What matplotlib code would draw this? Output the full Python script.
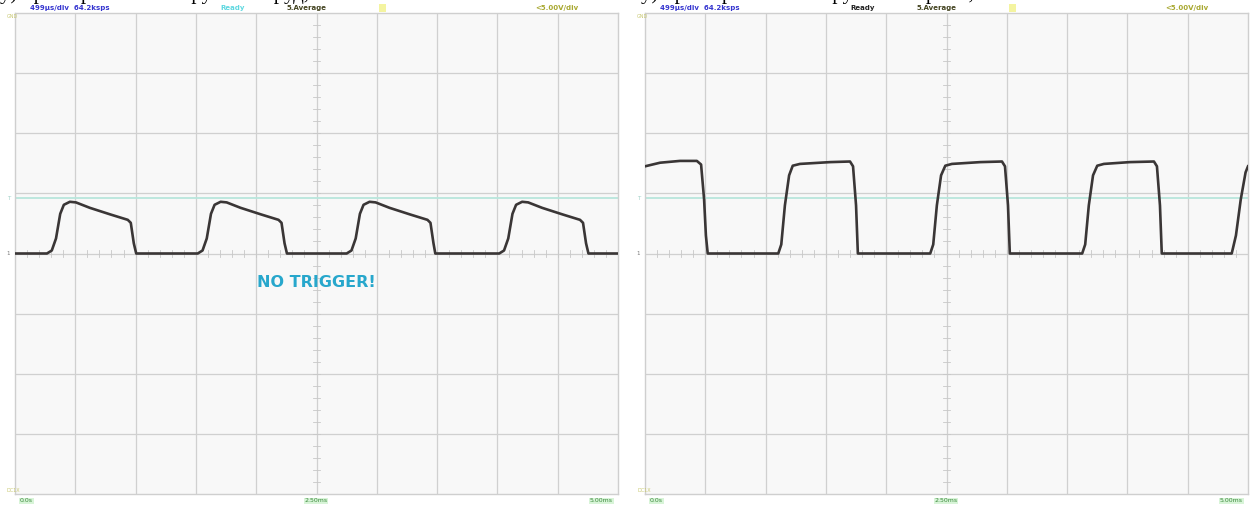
import matplotlib.pyplot as plt

# осциллограммы, время в делениях (0.5 мс/дел), напряжение в делениях (5 В/дел)
t_left = [0.0, 0.53, 0.61, 0.68, 0.75, 0.81, 0.91, 1.01, 1.24, 1.58, 1.87, 1.92, 1.97, 2.01,
          3.03, 3.11, 3.18, 3.25, 3.31, 3.41, 3.51, 3.74, 4.08, 4.37, 4.42, 4.47, 4.51,
          5.50, 5.58, 5.65, 5.72, 5.78, 5.88, 5.98, 6.21, 6.55, 6.84, 6.89, 6.94, 6.97,
          8.03, 8.11, 8.18, 8.25, 8.31, 8.41, 8.51, 8.74, 9.08, 9.37, 9.42, 9.47, 9.51, 10.0]
u_left = [0.0, 0.0, 0.05, 0.25, 0.66, 0.81, 0.86, 0.85, 0.76, 0.65, 0.56, 0.51, 0.17, 0.0,
          0.0, 0.05, 0.25, 0.66, 0.81, 0.86, 0.85, 0.76, 0.65, 0.56, 0.51, 0.17, 0.0,
          0.0, 0.05, 0.25, 0.66, 0.81, 0.86, 0.85, 0.76, 0.65, 0.56, 0.51, 0.17, 0.0,
          0.0, 0.05, 0.25, 0.66, 0.81, 0.86, 0.85, 0.76, 0.65, 0.56, 0.51, 0.17, 0.0, 0.0]

t_right = [0.0, 0.25, 0.58, 0.86, 0.93, 0.98, 1.01, 1.04,
           2.21, 2.26, 2.32, 2.39, 2.45, 2.57, 3.07, 3.40, 3.45, 3.50, 3.53,
           4.73, 4.78, 4.84, 4.91, 4.98, 5.09, 5.56, 5.92, 5.97, 6.02, 6.05,
           7.25, 7.30, 7.36, 7.43, 7.50, 7.61, 8.04, 8.44, 8.49, 8.54, 8.57,
           9.73, 9.80, 9.88, 9.96, 10.0]
u_right = [1.45, 1.51, 1.54, 1.54, 1.48, 0.9, 0.3, 0.0,
           0.0, 0.15, 0.8, 1.3, 1.46, 1.49, 1.52, 1.53, 1.45, 0.8, 0.0,
           0.0, 0.15, 0.8, 1.3, 1.46, 1.49, 1.52, 1.53, 1.45, 0.8, 0.0,
           0.0, 0.15, 0.8, 1.3, 1.46, 1.49, 1.52, 1.53, 1.45, 0.8, 0.0,
           0.0, 0.3, 0.9, 1.35, 1.45]

trig_level = 0.92
ready_colors = ['#5fd8e0', '#222222']
time_labels = ['0.0s', '2.50ms', '5.00ms']

W, H = 1256, 507
fig = plt.figure(figsize=(W / 100, H / 100), dpi=100)
fig.patch.set_facecolor('white')

# строка подписи над осциллограммами (видна только нижняя часть)
fig.text(0.0, 1.012, 'у) при первичном нагружении руд, ...', fontsize=15,
         family='Liberation Serif', va='center', ha='left', color='black')
fig.text(0.51, 1.012, 'у) при первичном нагружении при ..., ...', fontsize=15,
         family='Liberation Serif', va='center', ha='left', color='black')

panels = [(15, t_left, u_left, ready_colors[0]), (645, t_right, u_right, ready_colors[1])]

for i, (x0, t, u, rc) in enumerate(panels):
    ax = fig.add_axes([x0 / W, 13 / H, 603 / W, 481 / H])
    ax.set_facecolor('#f8f8f8')
    ax.set_xlim(0, 10)
    ax.set_ylim(-4, 4)
    for k in range(1, 10):
        ax.axvline(k, color='#d0d0d0', lw=0.9, zorder=1)
    for k in range(-3, 4):
        ax.axhline(k, color='#d0d0d0', lw=0.9, zorder=1)
    # мелкие риски на центральных осях
    for k in range(1, 50):
        ax.plot([k * 0.2, k * 0.2], [-0.05, 0.05], color='#c8c8c8', lw=0.6, zorder=1)
    for k in range(-19, 20):
        ax.plot([4.95, 5.05], [k * 0.2, k * 0.2], color='#c8c8c8', lw=0.6, zorder=1)
    ax.axhline(trig_level, color='#b8e6dc', lw=1.3, zorder=2)
    ax.plot(t, u, color='#3a3636', lw=1.9, zorder=3, solid_joinstyle='round')
    ax.set_xticks([])
    ax.set_yticks([])
    for s in ax.spines.values():
        s.set_color('#cfcfcf')
        s.set_linewidth(1.0)
    ax.text(-0.08, 0.0, '1', fontsize=4, color='#777777', va='center', ha='right')
    ax.text(-0.08, trig_level, 'T', fontsize=4, color='#9fd0c8', va='center', ha='right')

    # верхняя строка состояния осциллографа
    yt = 1 - 8 / H
    fig.text((x0 + 15) / W, yt, '499µs/div  64.2ksps', fontsize=5, color='#3535d0',
             weight='bold', va='center')
    fig.text((x0 + 205) / W, yt, 'Ready', fontsize=5, color=rc, weight='bold', va='center')
    fig.text((x0 + 272) / W, yt, '5.Average', fontsize=5, color='#444420', weight='bold',
             va='center')
    fig.text((x0 + 365) / W, yt, '  ', fontsize=5, va='center',
             bbox=dict(facecolor='#f4f4a0', edgecolor='none', pad=1.0))
    fig.text((x0 + 520) / W, yt, '<5.00V/div', fontsize=5, color='#a8a830', weight='bold',
             va='center')
    fig.text((x0 - 8) / W, 1 - 16 / H, 'GND', fontsize=3.5, color='#c8c870', va='center')

    # нижняя шкала времени
    yb = 6 / H
    fig.text((x0 + 5) / W, yb, time_labels[0], fontsize=4.5, color='#3c8a3c', va='center',
             bbox=dict(facecolor='#d8f4d8', edgecolor='none', pad=0.6))
    fig.text((x0 + 301) / W, yb, time_labels[1], fontsize=4.5, color='#3c8a3c', va='center',
             ha='center', bbox=dict(facecolor='#d8f4d8', edgecolor='none', pad=0.6))
    fig.text((x0 + 598) / W, yb, time_labels[2], fontsize=4.5, color='#3c8a3c', va='center',
             ha='right', bbox=dict(facecolor='#d8f4d8', edgecolor='none', pad=0.6))
    fig.text((x0 - 8) / W, 16 / H, 'DC1X', fontsize=3.5, color='#c8c870', va='center')

    if i == 0:
        ax.text(5.0, -0.48, 'NO TRIGGER!', fontsize=11.5, color='#27a7cc', weight='bold',
                ha='center', va='center', zorder=4)

fig.savefig('out.png', dpi=100)
